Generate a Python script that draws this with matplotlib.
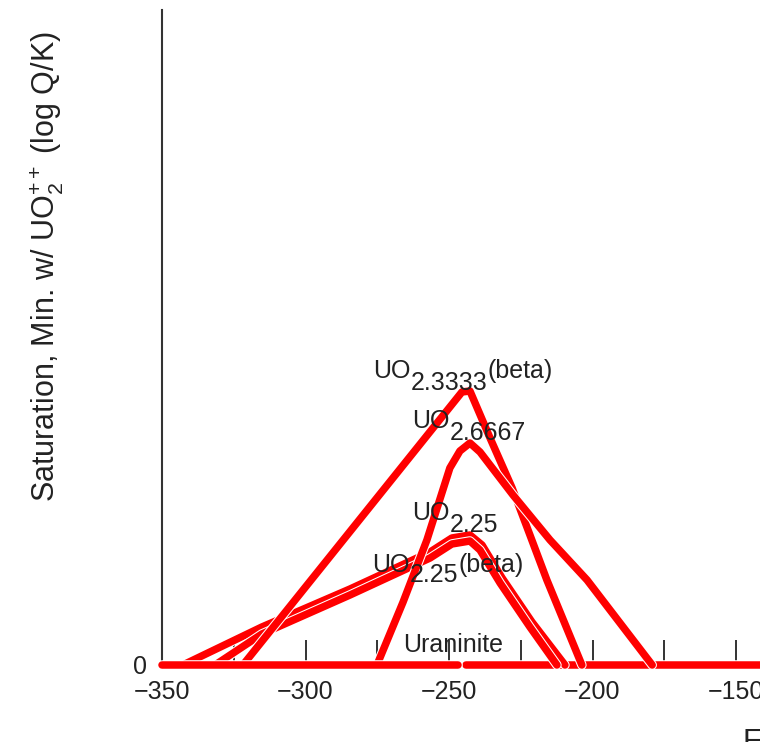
import matplotlib
matplotlib.use('Agg')
import matplotlib.pyplot as plt
import matplotlib.patheffects as pe

plt.rcParams['font.family'] = 'Liberation Sans'
plt.rcParams['mathtext.fontset'] = 'custom'
plt.rcParams['mathtext.rm'] = 'Liberation Sans'
plt.rcParams['mathtext.it'] = 'Liberation Sans:italic'
plt.rcParams['mathtext.default'] = 'regular'

# saturation curves (x = Eh, y = log Q/K)
uo2_25_x = [-342.7, -315.2, -284.5, -256.6, -249.0, -242.7, -238.5, -231.5, -221.1, -209.6]
uo2_25_y = [0.0, 0.38, 0.76, 1.13, 1.27, 1.30, 1.20, 0.87, 0.43, 0.0]

uo2_25b_x = [-331.5, -315.2, -284.5, -256.6, -249.0, -242.7, -239.2, -232.2, -221.8, -212.4]
uo2_25b_y = [0.0, 0.31, 0.70, 1.07, 1.21, 1.24, 1.15, 0.82, 0.38, 0.0]

uo2_3333_x = [-321.8, -245.5, -242.7, -235.7, -228.0, -221.8, -215.9, -203.7]
uo2_3333_y = [0.0, 2.73, 2.74, 2.27, 1.77, 1.30, 0.85, 0.0]

uo2_6667_x = [-275.1, -266.0, -257.7, -249.7, -246.2, -242.7, -239.2, -227.7, -214.8, -201.9, -179.2]
uo2_6667_y = [0.0, 0.63, 1.25, 1.97, 2.14, 2.22, 2.13, 1.70, 1.25, 0.85, 0.0]

uraninite_left_x = [-350.0, -246.9]
uraninite_right_x = [-244.1, -100.0]
uraninite_y = [0.0, 0.0]

major_ticks = [-350, -300, -250, -200, -150, -100, -50, 0, 50, 100]
minor_ticks = [-325, -275, -225, -175, -125, -75, -25, 25, 75]

RED = '#ff0000'
TXT = '#222222'
LW = 5.4
outline = [pe.Stroke(linewidth=LW + 1.5, foreground='white'), pe.Normal()]

fig = plt.figure(figsize=(7.6, 7.42), dpi=100)
ax = fig.add_axes([162 / 760, 1 - 665 / 742, 1291.5 / 760, 655 / 742])
ax.set_xlim(-350, 100)
ax.set_ylim(0, 6.55)
ax.set_axisbelow(True)


def curve(x, y, z):
    ax.plot(x, y, color=RED, lw=LW, solid_capstyle='round', solid_joinstyle='round',
            path_effects=outline, clip_on=False, zorder=z)


curve(uraninite_right_x, uraninite_y, 1)
curve(uo2_25_x, uo2_25_y, 2)
curve(uo2_25b_x, uo2_25b_y, 3)
curve(uo2_3333_x, uo2_3333_y, 4)
curve(uo2_6667_x, uo2_6667_y, 5)
curve(uraninite_left_x, uraninite_y, 6)


def chem_label(x, y, sub, tail='', shift=8.5):
    t1 = ax.text(x, y, 'UO', fontsize=18, color=TXT, ha='left', va='baseline', zorder=10)
    t2 = ax.annotate(sub, xy=(1, 0), xycoords=t1, xytext=(0, -shift),
                     textcoords='offset points', fontsize=18, color=TXT,
                     ha='left', va='bottom', zorder=10)
    if tail:
        ax.annotate(tail, xy=(1, 0), xycoords=(t2, t1), fontsize=18, color=TXT,
                    ha='left', va='bottom', zorder=10)


chem_label(-276.5, 2.87, '2.3333', '(beta)')
chem_label(-262.9, 2.37, '2.6667')
chem_label(-262.9, 1.45, '2.25')
chem_label(-276.8, 0.93, '2.25', '(beta)', shift=7.5)
ax.text(-266.0, 0.13, 'Uraninite', fontsize=18, color=TXT, ha='left', va='baseline', zorder=10)

for side in ['top', 'right']:
    ax.spines[side].set_visible(False)
for side in ['left', 'bottom']:
    ax.spines[side].set_color('#333333')
    ax.spines[side].set_linewidth(1.5)
    ax.spines[side].set_zorder(0.5)

ax.set_xticks(major_ticks)
ax.set_xticks(minor_ticks, minor=True)
ax.tick_params(axis='x', which='both', direction='in', length=18, width=1.4,
               color='#333333', labelsize=18, labelcolor=TXT, pad=11)
ax.set_yticks([0])
ax.tick_params(axis='y', length=0, labelsize=18, labelcolor=TXT, pad=10.5)

fig.text(55 / 760, 1 - 267 / 742, r'Saturation, Min. w/ UO$_2^{++}$ (log Q/K)',
         rotation=90, rotation_mode='anchor', ha='center', va='baseline',
         fontsize=22, color=TXT)
# x-axis title, cut by the right/bottom edge as in the reference
fig.text(743 / 760, 1 - 728 / 742, 'Eh (mV)', ha='left', va='top', fontsize=22, color=TXT)

plt.savefig('out.png', dpi=100)
plt.close()
